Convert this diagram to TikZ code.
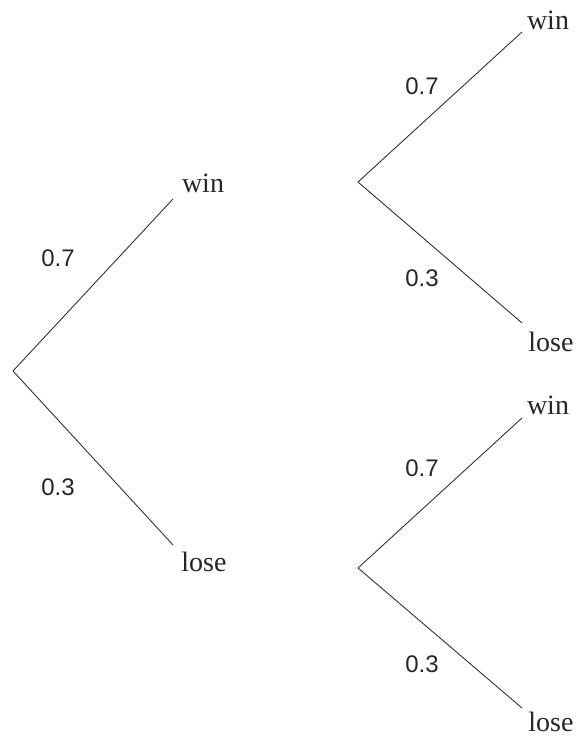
\documentclass[tikz,border=0pt]{standalone}
\usepackage{fontspec}
\setmainfont{Liberation Serif}
\newfontfamily\numfont{Liberation Sans}
\begin{document}
\begin{tikzpicture}[x=1pt,y=1pt,
  branch/.style={draw=black!80, line width=0.9pt},
  word/.style={anchor=base, inner sep=0pt, font=\fontsize{28}{32}\selectfont, text=black!85},
  prob/.style={anchor=base, inner sep=0pt, font=\numfont\fontsize{24}{28}\selectfont, text=black!85}]
\useasboundingbox (0,0) rectangle (587,738);
% left tree
\coordinate (r0) at (13,367);
\coordinate (e1) at (173,539);
\coordinate (e2) at (173,193);
\node[word] (w1) at (203,545) {win};
\node[word] (l1) at (204,166) {lose};
\node[prob] (p1) at (58,471) {0.7};
\node[prob] (p2) at (58,242) {0.3};
\draw[branch] (e1) -- (r0) -- (e2);
% top right tree
\coordinate (r1) at (358,556);
\coordinate (e3) at (522,706);
\coordinate (e4) at (522,415);
\node[word] (w2) at (548,708) {win};
\node[word] (l2) at (551,386) {lose};
\node[prob] (p3) at (422,643) {0.7};
\node[prob] (p4) at (422,451) {0.3};
\draw[branch] (e3) -- (r1) -- (e4);
% bottom right tree
\coordinate (r2) at (358,170);
\coordinate (e5) at (522,320);
\coordinate (e6) at (522,30);
\node[word] (w3) at (548,323) {win};
\node[word] (l3) at (551,6) {lose};
\node[prob] (p5) at (422,261) {0.7};
\node[prob] (p6) at (422,65) {0.3};
\draw[branch] (e5) -- (r2) -- (e6);
\end{tikzpicture}
\end{document}
